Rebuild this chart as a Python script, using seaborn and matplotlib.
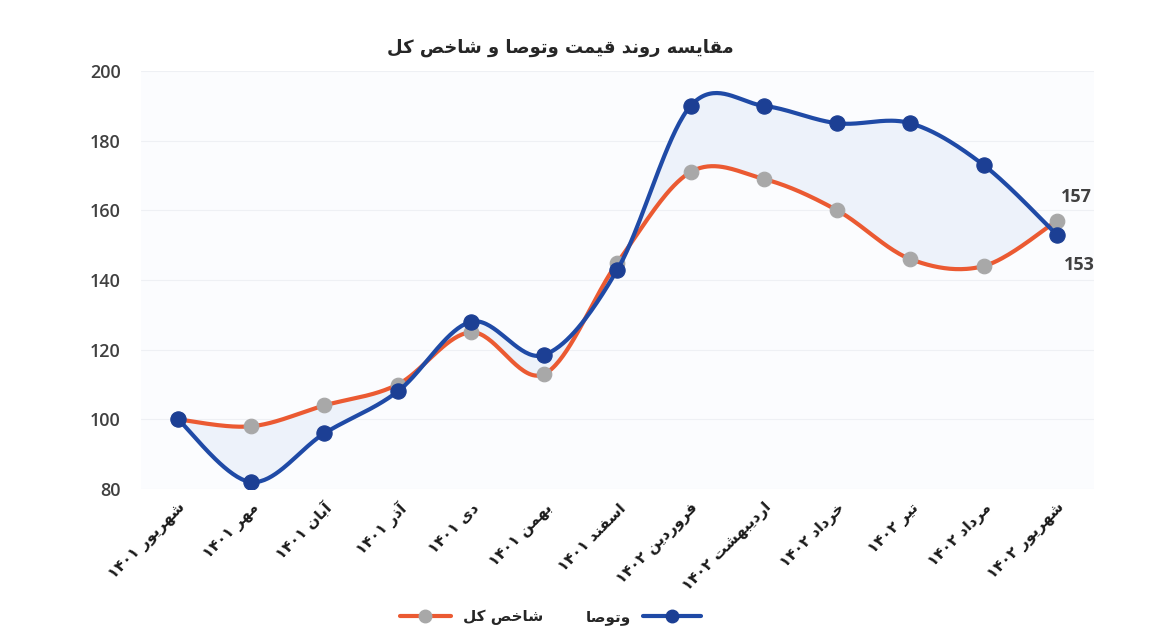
import re
import numpy as np
import pandas as pd
import matplotlib
matplotlib.use("Agg")
import matplotlib.pyplot as plt
import seaborn as sns
from matplotlib.lines import Line2D

# ---------------- data ----------------
months = ["شهریور ۱۴۰۱", "مهر ۱۴۰۱", "آبان ۱۴۰۱", "آذر ۱۴۰۱", "دی ۱۴۰۱",
          "بهمن ۱۴۰۱", "اسفند ۱۴۰۱", "فروردین ۱۴۰۲", "اردیبهشت ۱۴۰۲",
          "خرداد ۱۴۰۲", "تیر ۱۴۰۲", "مرداد ۱۴۰۲", "شهریور ۱۴۰۲"]
index_total = [100, 98, 104, 110, 125, 113, 145, 171, 169, 160, 146, 144, 157]
vatousa = [100, 82, 96, 108, 128, 118.5, 143, 190, 190, 185, 185, 173, 153]
y_ticks = [80, 100, 120, 140, 160, 180, 200]
title_text = "مقایسه روند قیمت وتوصا و شاخص کل"
series_names = ["شاخص کل", "وتوصا"]

ORANGE = "#eb5a32"
BLUE = "#1f4aa6"
GREY = "#a8a8a8"
BLUE_MK = "#1c3f94"
TXT = "#404040"

# ------------- minimal Persian shaping (matplotlib has no CTL) -------------
FORMS = {
    'ا': ('\uFE8D', '\uFE8E', None, None), 'آ': ('\uFE81', '\uFE82', None, None),
    'د': ('\uFEA9', '\uFEAA', None, None), 'ذ': ('\uFEAB', '\uFEAC', None, None),
    'ر': ('\uFEAD', '\uFEAE', None, None), 'ز': ('\uFEAF', '\uFEB0', None, None),
    'و': ('\uFEED', '\uFEEE', None, None),
    'ب': ('\uFE8F', '\uFE90', '\uFE91', '\uFE92'), 'ت': ('\uFE95', '\uFE96', '\uFE97', '\uFE98'),
    'خ': ('\uFEA5', '\uFEA6', '\uFEA7', '\uFEA8'), 'س': ('\uFEB1', '\uFEB2', '\uFEB3', '\uFEB4'),
    'ش': ('\uFEB5', '\uFEB6', '\uFEB7', '\uFEB8'), 'ص': ('\uFEB9', '\uFEBA', '\uFEBB', '\uFEBC'),
    'ف': ('\uFED1', '\uFED2', '\uFED3', '\uFED4'), 'ق': ('\uFED5', '\uFED6', '\uFED7', '\uFED8'),
    'ک': ('\uFB8E', '\uFB8F', '\uFB90', '\uFB91'), 'ل': ('\uFEDD', '\uFEDE', '\uFEDF', '\uFEE0'),
    'م': ('\uFEE1', '\uFEE2', '\uFEE3', '\uFEE4'), 'ن': ('\uFEE5', '\uFEE6', '\uFEE7', '\uFEE8'),
    'ه': ('\uFEE9', '\uFEEA', '\uFEEB', '\uFEEC'), 'ی': ('\uFBFC', '\uFBFD', '\uFBFE', '\uFBFF'),
    'ي': ('\uFEF1', '\uFEF2', '\uFEF3', '\uFEF4'),
}


def shape(word):
    out = []
    n = len(word)
    for i, ch in enumerate(word):
        f = FORMS.get(ch)
        if f is None:
            out.append(ch)
            continue
        prev = word[i - 1] if i > 0 else None
        nxt = word[i + 1] if i < n - 1 else None
        jp = prev in FORMS and FORMS[prev][2] is not None
        jn = f[2] is not None and nxt in FORMS
        if jp and jn:
            out.append(f[3])
        elif jp:
            out.append(f[1])
        elif jn:
            out.append(f[2])
        else:
            out.append(f[0])
    return ''.join(out)


DIG = r'[0-9\u06F0-\u06F9]'


def rtl(s):
    s = shape(s)
    toks = re.findall(DIG + r'+|[^0-9\u06F0-\u06F9]+', s)
    return ''.join(t if re.match(DIG, t) else t[::-1] for t in reversed(toks))


# ------------- smoothing like spreadsheet "smoothed line" -------------
def smooth(xs, ys, n=40):
    P = np.column_stack([np.asarray(xs, float), np.asarray(ys, float)])
    m = len(P)
    outx, outy = [], []
    t = np.linspace(0, 1, n)
    for i in range(m - 1):
        p0 = P[i - 1] if i > 0 else P[i]
        p1, p2 = P[i], P[i + 1]
        p3 = P[i + 2] if i + 2 < m else P[i + 1]
        c1 = p1 + (p2 - p0) / 6
        c2 = p2 - (p3 - p1) / 6
        b = (((1 - t) ** 3)[:, None] * p1 + (3 * (1 - t) ** 2 * t)[:, None] * c1
             + (3 * (1 - t) * t ** 2)[:, None] * c2 + (t ** 3)[:, None] * p2)
        if i > 0:
            b = b[1:]
        outx.append(b[:, 0])
        outy.append(b[:, 1])
    return np.concatenate(outx), np.concatenate(outy)


sns.set_theme(style="white")
plt.rcParams['font.family'] = ['DejaVu Sans']

fig = plt.figure(figsize=(11.53, 6.35), dpi=100, facecolor="white")
ax = fig.add_axes([0.1226, 0.2299, 0.8258, 0.6583])
ax.set_facecolor("#fbfcfe")

x = np.arange(len(months))
sx, s_idx = smooth(x, index_total)
_, s_v = smooth(x, vatousa)

ax.fill_between(sx, s_idx, s_v, color="#edf2fa", lw=0, zorder=1)

df_idx = pd.DataFrame({"x": sx, "y": s_idx})
df_v = pd.DataFrame({"x": sx, "y": s_v})
sns.lineplot(data=df_idx, x="x", y="y", sort=False, estimator=None, color=ORANGE,
             lw=3, ax=ax, zorder=2)
sns.scatterplot(x=x, y=index_total, color=GREY, edgecolor=GREY, s=110, ax=ax, zorder=3)
sns.lineplot(data=df_v, x="x", y="y", sort=False, estimator=None, color=BLUE,
             lw=3, ax=ax, zorder=4)
sns.scatterplot(x=x, y=vatousa, color=BLUE_MK, edgecolor=BLUE_MK, s=120, ax=ax, zorder=5)

ax.set_xlim(-0.5, len(months) - 0.5)
ax.set_ylim(80, 200)
ax.set_yticks(y_ticks)
ax.set_yticklabels([str(v) for v in y_ticks], fontsize=13, fontweight="semibold",
                   color=TXT, family=["Open Sans", "DejaVu Sans"])
ax.set_xticks(x)
ax.set_xticklabels([rtl(m) for m in months], rotation=45, ha="right",
                   rotation_mode="anchor", fontsize=11, fontweight="bold", color="#1a1a1a")
ax.tick_params(axis="y", length=0, pad=15)
ax.tick_params(axis="x", length=0, pad=8)
ax.set_xlabel("")
ax.set_ylabel("")
for sp in ax.spines.values():
    sp.set_visible(False)
ax.grid(axis="y", color="#eef0f4", lw=0.8)
ax.set_axisbelow(True)

# end labels
ax.annotate(str(index_total[-1]), xy=(x[-1], index_total[-1]), xytext=(20, 24),
            textcoords="offset pixels", ha="center", va="center", fontsize=13,
            fontweight="bold", color=TXT, family=["Open Sans", "DejaVu Sans"])
ax.annotate(str(int(vatousa[-1])), xy=(x[-1], vatousa[-1]), xytext=(22, -30),
            textcoords="offset pixels", ha="center", va="center", fontsize=13,
            fontweight="bold", color=TXT, family=["Open Sans", "DejaVu Sans"])

fig.text(0.486, 0.924, rtl(title_text), ha="center", va="center", fontsize=13,
         fontweight="bold", color="#262626")

h_idx = Line2D([], [], color=ORANGE, lw=3, marker="o", mfc=GREY, mec=GREY, ms=9)
h_v = Line2D([], [], color=BLUE, lw=3, marker="o", mfc=BLUE_MK, mec=BLUE_MK, ms=9)
leg1 = fig.legend(handles=[h_idx], labels=[rtl(series_names[0])], loc="center",
                  bbox_to_anchor=(0.409, 0.028), frameon=False, markerfirst=True,
                  handlelength=3.3, fontsize=11, prop={"weight": "bold", "size": 11})
leg2 = fig.legend(handles=[h_v], labels=[rtl(series_names[1])], loc="center",
                  bbox_to_anchor=(0.558, 0.028), frameon=False, markerfirst=False,
                  handlelength=3.8, prop={"weight": "bold", "size": 11})

fig.savefig("out.png", dpi=100, facecolor="white")
